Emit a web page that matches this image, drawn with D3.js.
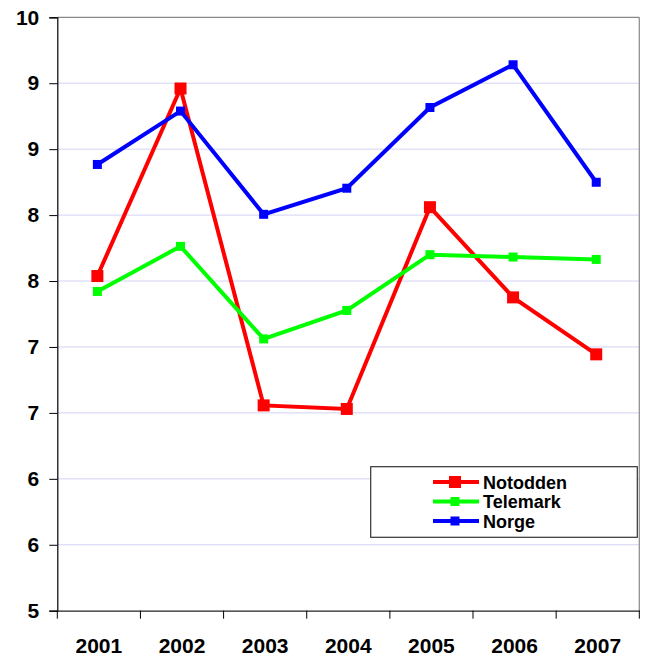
<!DOCTYPE html>
<html>
<head>
<meta charset="utf-8">
<script src="https://cdn.jsdelivr.net/npm/d3@7"></script>
<style>
  html, body { margin: 0; padding: 0; background: #fff; }
  svg { display: block; font-family: "Liberation Sans", Arial, sans-serif; }
</style>
</head>
<body>
<svg id="chart" width="647" height="657"></svg>
<script>
const years = ["2001", "2002", "2003", "2004", "2005", "2006", "2007"];
const notodden = [7.82, 9.40, 6.73, 6.70, 8.40, 7.64, 7.16];
const telemark = [7.69, 8.07, 7.29, 7.53, 8.00, 7.98, 7.96];
const norge    = [8.76, 9.21, 8.34, 8.56, 9.24, 9.60, 8.61];
const seriesNames = ["Notodden", "Telemark", "Norge"];
const yMin = 5, yMax = 10, yTickCount = 9;

(function () {
const series = [
  { name: seriesNames[0], values: notodden, color: "#ff0000", marker: 12 },
  { name: seriesNames[1], values: telemark, color: "#00ff00", marker: 9 },
  { name: seriesNames[2], values: norge,    color: "#0000ff", marker: 9 }
];

const svg = d3.select("#chart");
const pL = 57.3, pR = 639.3, pT = 17.3, pB = 610.7;

const x = d3.scaleBand().domain(years).range([pL, pR]).padding(0);
const y = d3.scaleLinear().domain([yMin, yMax]).range([pB, pT]);
const yTicks = d3.range(yTickCount + 1).map(i => yMin + i * (yMax - yMin) / yTickCount);

// gridlines
svg.append("g").selectAll("line")
  .data(yTicks.filter(t => t > yMin && t < yMax))
  .join("line")
  .attr("x1", pL).attr("x2", pR)
  .attr("y1", d => y(d)).attr("y2", d => y(d))
  .attr("stroke", "#d2d2f4").attr("stroke-width", 1);

// top and right border
svg.append("line").attr("x1", pL).attr("x2", pR).attr("y1", pT).attr("y2", pT)
  .attr("stroke", "#888").attr("stroke-width", 1.2);
svg.append("line").attr("x1", pR).attr("x2", pR).attr("y1", pT).attr("y2", pB)
  .attr("stroke", "#888").attr("stroke-width", 1.2);

// y axis
const yAxis = d3.axisLeft(y).tickValues(yTicks).tickFormat(d3.format(".0f")).tickSize(8).tickPadding(10);
const gy = svg.append("g").attr("transform", `translate(${pL},0)`).call(yAxis);
gy.select(".domain").attr("stroke", "#000").attr("stroke-width", 1.2);
gy.selectAll(".tick line").attr("stroke", "#000");
gy.selectAll(".tick text").attr("font-size", 21).attr("font-weight", "bold").attr("fill", "#000");

// x axis
const xAxis = d3.axisBottom(x).tickSize(0).tickPadding(27);
const gx = svg.append("g").attr("transform", `translate(0,${pB})`).call(xAxis);
gx.select(".domain").attr("stroke", "#222").attr("stroke-width", 1.2);
gx.selectAll(".tick text").attr("font-size", 21).attr("font-weight", "bold").attr("fill", "#000");
const bounds = years.map(d => x(d)).concat([x(years[years.length - 1]) + x.bandwidth()]);
svg.append("g").selectAll("line").data(bounds).join("line")
  .attr("x1", d => d).attr("x2", d => d)
  .attr("y1", pB).attr("y2", pB + 8)
  .attr("stroke", "#000").attr("stroke-width", 1);

// lines and markers
const cx = i => x(years[i]) + x.bandwidth() / 2 - 1.5;
const line = d3.line().x((d, i) => cx(i)).y(d => y(d));
series.forEach(s => {
  svg.append("path").datum(s.values)
    .attr("d", line).attr("fill", "none")
    .attr("stroke", s.color).attr("stroke-width", 4).attr("stroke-linejoin", "miter");
  svg.append("g").selectAll("rect").data(s.values).join("rect")
    .attr("x", (d, i) => cx(i) - s.marker / 2)
    .attr("y", d => y(d) - s.marker / 2)
    .attr("width", s.marker).attr("height", s.marker)
    .attr("fill", s.color);
});

// legend
const lg = svg.append("g");
lg.append("rect").attr("x", 370.7).attr("y", 466.7).attr("width", 266.6).attr("height", 70.6)
  .attr("fill", "#fff").attr("stroke", "#333").attr("stroke-width", 1.2);
series.forEach((s, i) => {
  const ly = 482 + i * 19.5;
  lg.append("line").attr("x1", 433).attr("x2", 479).attr("y1", ly).attr("y2", ly)
    .attr("stroke", s.color).attr("stroke-width", 4);
  lg.append("rect").attr("x", 455 - s.marker / 2).attr("y", ly - s.marker / 2)
    .attr("width", s.marker).attr("height", s.marker).attr("fill", s.color);
  lg.append("text").attr("x", 483).attr("y", ly + 6.5)
    .attr("font-size", 18).attr("font-weight", "bold").attr("fill", "#000")
    .text(s.name);
});
})();
</script>
</body>
</html>
